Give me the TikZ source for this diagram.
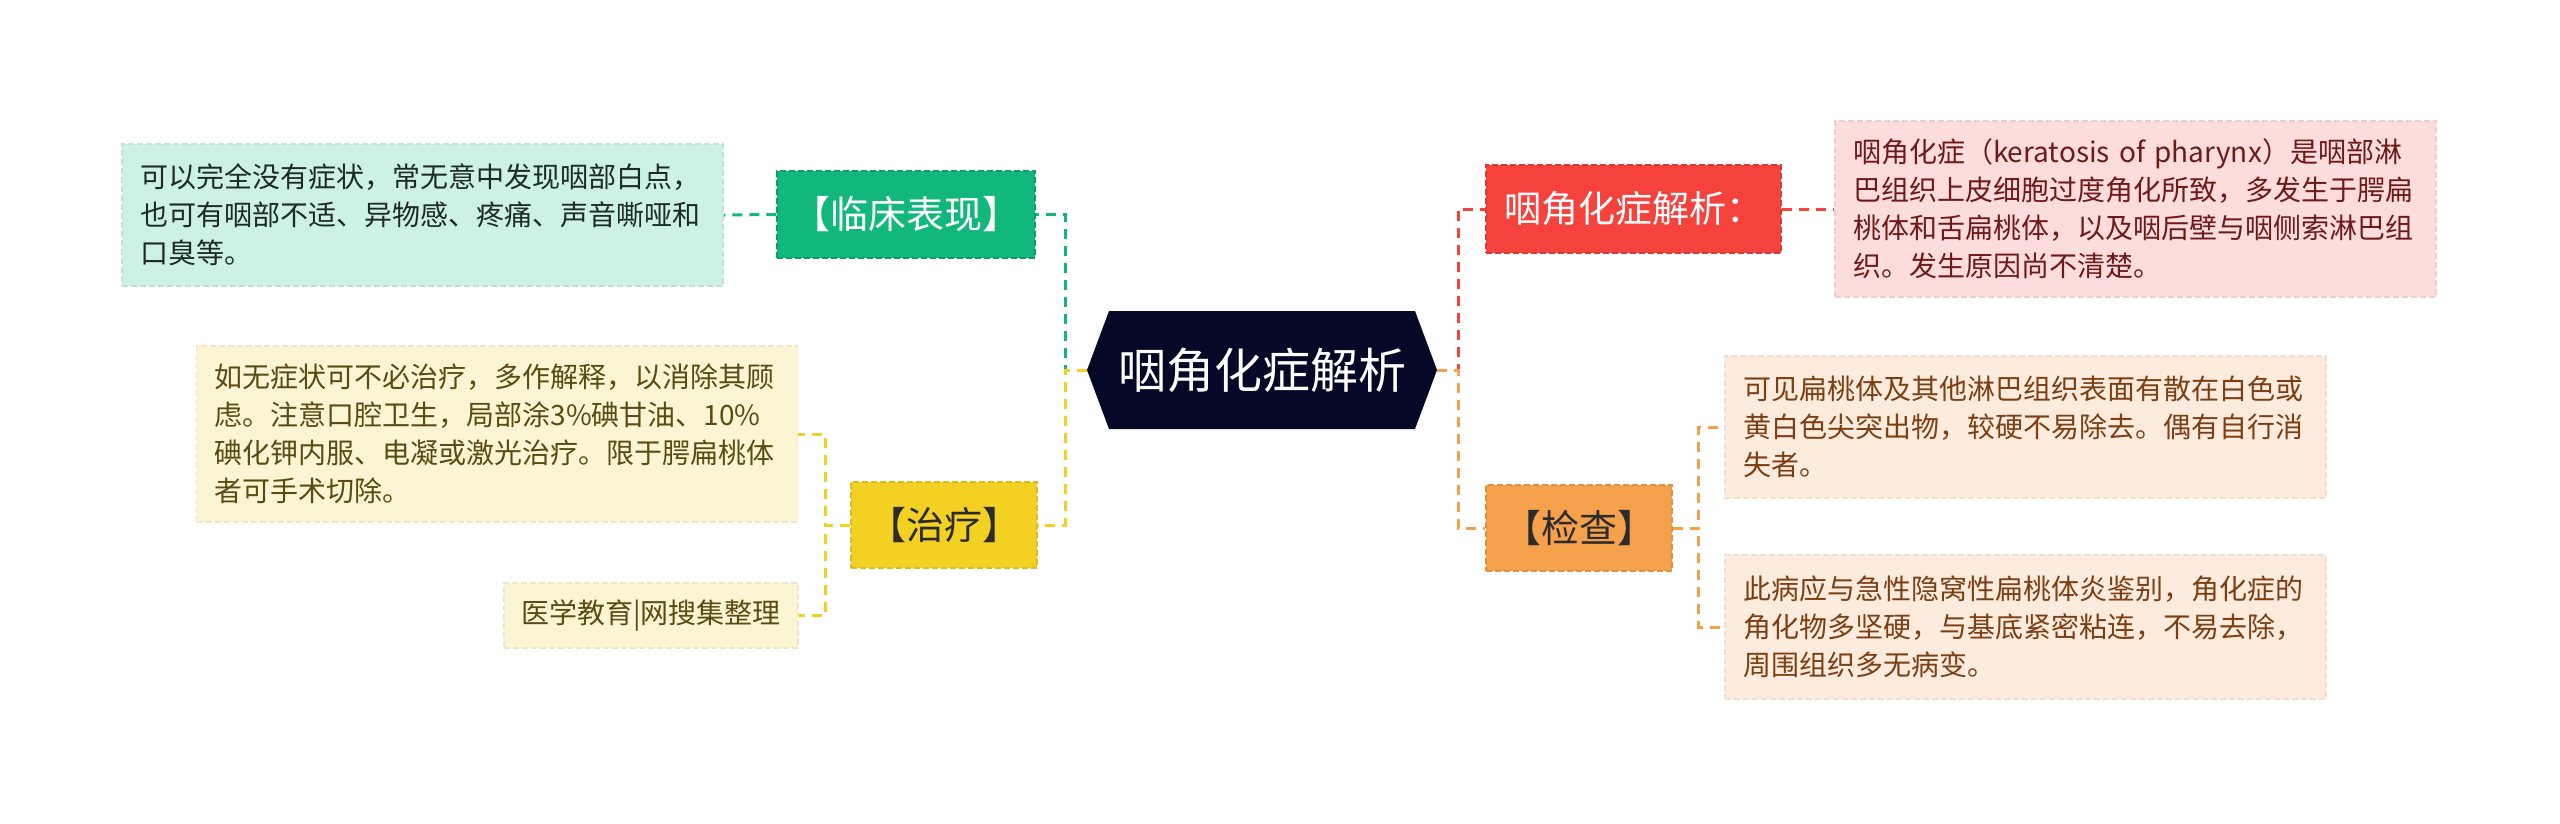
\documentclass[tikz,border=0pt]{standalone}
\usepackage{fontspec}
\newfontfamily\cjk{Noto Sans CJK SC}
\definecolor{navy}{HTML}{050827}
\definecolor{cred}{HTML}{F5423D}
\definecolor{cpink}{HTML}{FDDCDC}
\definecolor{tpink}{HTML}{6E1A1A}
\definecolor{corange}{HTML}{F5A04B}
\definecolor{cpeach}{HTML}{FDEBDE}
\definecolor{tpeach}{HTML}{7B3F12}
\definecolor{cgreen}{HTML}{12B87B}
\definecolor{clgreen}{HTML}{CDF1E4}
\definecolor{tlgreen}{HTML}{1C2B25}
\definecolor{cyellow}{HTML}{F2D123}
\definecolor{clyellow}{HTML}{FCF5D4}
\definecolor{tlyellow}{HTML}{5A4B12}
\definecolor{tdark}{HTML}{2B2B2B}
\begin{document}
\begin{tikzpicture}[x=1pt,y=-1pt,
  boxbase/.style={inner sep=0pt, line width=1.5pt, dash pattern=on 6pt off 3pt},
  topic/.style={boxbase, align=center, font={\cjk\fontsize{38}{44}\selectfont}},
  detail/.style={boxbase, align=left, inner xsep=18pt, inner ysep=0pt, text width=565pt, font={\cjk\fontsize{28}{38}\selectfont}},
  conn/.style={line width=3pt, dash pattern=on 10pt off 7pt}
]
\fill[white] (0,0) rectangle (2560,823);
\useasboundingbox (0,0) rectangle (2560,823);

% central hexagon
\fill[navy] (1087,370) -- (1109,311) -- (1415,311) -- (1437,370) -- (1415,429) -- (1109,429) -- cycle;
\node[font={\cjk\fontsize{48}{52}\selectfont}, text=white, inner sep=0pt] (c) at (1262,370) {咽角化症解析};
\coordinate (cl) at (1087,370);
\coordinate (cr) at (1437,370);

% left branches
\node[topic, fill=cgreen, draw=cgreen!85!black, text=white, minimum width=258pt, minimum height=87pt] (green) at (906,214.5) {【临床表现】};
\node[detail, fill=clgreen, draw=clgreen!94!black, text=tlgreen, minimum height=142pt] (lgreen) at (422.5,215) {可以完全没有症状，常无意中发现咽部白点，\\也可有咽部不适、异物感、疼痛、声音嘶哑和\\口臭等。};

\node[topic, fill=cyellow, draw=cyellow!90!black, text=tdark, minimum width=186pt, minimum height=86pt] (yellow) at (944,525) {【治疗】};
\node[detail, fill=clyellow, draw=clyellow!94!black, text=tlyellow, minimum height=176pt] (lyellow) at (497,434) {如无症状可不必治疗，多作解释，以消除其顾\\虑。注意口腔卫生，局部涂3\%碘甘油、10\%\\碘化钾内服、电凝或激光治疗。限于腭扁桃体\\者可手术切除。};
\node[boxbase, fill=clyellow, draw=clyellow!94!black, text=tlyellow, minimum width=294pt, minimum height=65pt, font={\cjk\fontsize{28}{38}\selectfont}] (src) at (651,615.5) {医学教育|网搜集整理};

% right branches
\node[topic, fill=cred, draw=cred!88!black, text=white, minimum width=295pt, minimum height=88pt, font={\cjk\fontsize{37}{44}\selectfont}] (red) at (1633.5,209) {咽角化症解析：};
\node[detail, fill=cpink, draw=cpink!94!black, text=tpink, minimum height=176pt] (pink) at (2135.5,209) {咽角化症（keratosis of pharynx）是咽部淋\\巴组织上皮细胞过度角化所致，多发生于腭扁\\桃体和舌扁桃体，以及咽后壁与咽侧索淋巴组\\织。发生原因尚不清楚。};

\node[topic, fill=corange, draw=corange!90!black, text=tdark, minimum width=186pt, minimum height=86pt] (orange) at (1579,528) {【检查】};
\node[detail, fill=cpeach, draw=cpeach!95!black, text=tpeach, minimum height=142pt] (peach1) at (2025.5,427) {可见扁桃体及其他淋巴组织表面有散在白色或\\黄白色尖突出物，较硬不易除去。偶有自行消\\失者。};
\node[detail, fill=cpeach, draw=cpeach!95!black, text=tpeach, minimum height=144pt] (peach2) at (2025.5,627) {此病应与急性隐窝性扁桃体炎鉴别，角化症的\\角化物多坚硬，与基底紧密粘连，不易去除，\\周围组织多无病变。};

% connectors
\draw[conn, cgreen] (cl) -- ++(-22,0) |- (green.east);
\draw[conn, cyellow] (cl) -- ++(-22,0) |- (yellow.east);
\draw[conn, cgreen] (green.west) -- (lgreen.east);
\draw[conn, cyellow] (yellow.west) -- ++(-25,0) |- (lyellow.east);
\draw[conn, cyellow] (yellow.west) -- ++(-25,0) |- (src.east);

\draw[conn, cred] (cr) -- ++(21,0) |- (red.west);
\draw[conn, corange] (cr) -- ++(21,0) |- (orange.west);
\draw[conn, cred] (red.east) -- (pink.west);
\draw[conn, corange] (orange.east) -- ++(26,0) |- (peach1.west);
\draw[conn, corange] (orange.east) -- ++(26,0) |- (peach2.west);
\end{tikzpicture}
\end{document}
